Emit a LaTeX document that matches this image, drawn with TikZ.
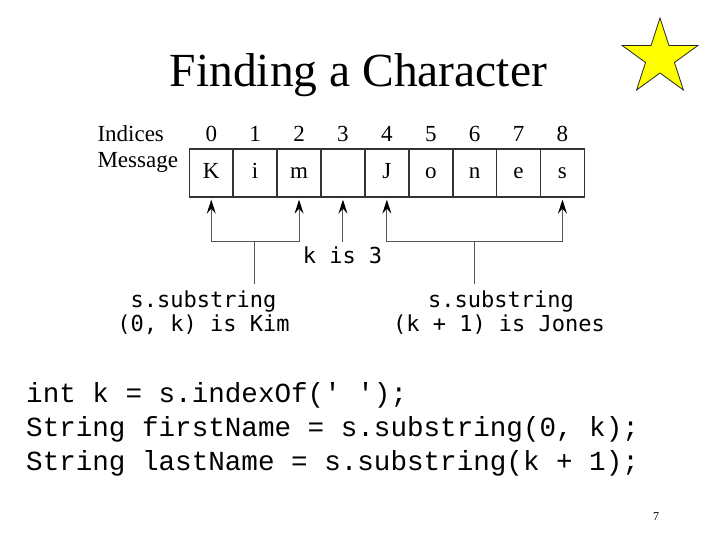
\documentclass[tikz,border=0pt]{standalone}
\usepackage{fontspec}
\setmainfont{Liberation Serif}
\newfontfamily\labelmono{DejaVu Sans Mono}
\newfontfamily\codemono{Liberation Mono}
\usetikzlibrary{arrows.meta}
\definecolor{cellline}{HTML}{333333}
\definecolor{linkgray}{HTML}{555555}
\definecolor{staryellow}{HTML}{FFFF00}
\begin{document}
\begin{tikzpicture}[x=1pt,y=-1pt,
  title/.style={font=\fontsize{47.5}{50}\selectfont, inner sep=0pt, anchor=base},
  cellbox/.style={draw=cellline, line width=1.6pt, minimum width=43.9pt, minimum height=47.7pt,
    inner sep=0pt, font=\fontsize{23}{26}\selectfont},
  idx/.style={font=\fontsize{23}{26}\selectfont, inner sep=0pt, anchor=base},
  rowname/.style={font=\fontsize{23}{26}\selectfont, inner sep=0pt, anchor=base west},
  monolabel/.style={font=\labelmono\fontsize{22}{24}\selectfont, inner sep=0pt, anchor=base},
  codeline/.style={font=\codemono\fontsize{27.6}{30}\selectfont, inner sep=0pt, anchor=base west},
  link/.style={draw=linkgray, line width=1pt},
  pointer/.style={link, shorten >=2pt,
    -{Stealth[length=14pt,width=9pt,inset=5pt,color=black]}}]
\useasboundingbox (0,0) rectangle (720,540);
\fill[white] (0,0) rectangle (720,540);

% heading
\node[title] (head) at (358.4,86.7) {Finding a Character};

% star ornament
\begin{scope}[shift={(660,57.8)}]
  \draw[fill=staryellow, draw=black!85, line width=0.8pt, line join=miter]
    (-90:39.8) -- (-54:15.2) -- (-18:39.8) -- (18:15.2) -- (54:39.8) -- (90:15.2)
    -- (126:39.8) -- (162:15.2) -- (198:39.8) -- (234:15.2) -- cycle;
\end{scope}

% row captions
\node[rowname] (indices) at (97.3,141.7) {Indices};
\node[rowname] (message) at (97.3,167.5) {Message};

% character cells with their indices
\foreach \ch [count=\i from 0] in {K,i,m,{},J,o,n,e,s} {
  \node[cellbox] (c\i) at ({189.3+43.9*(\i+0.5)},173) {\vphantom{Kg}\ch};
  \node[idx] (i\i) at ({189.3+43.9*(\i+0.5)},141.7) {\i};
}

% pointer brackets
\coordinate (lA) at (c0.south |- 0,241.7);
\coordinate (lB) at (c2.south |- 0,241.7);
\coordinate (rA) at (c4.south |- 0,241.7);
\coordinate (rB) at (c8.south |- 0,241.7);
\coordinate (kTop) at (c3.south |- 0,241.7);
\coordinate (lMid) at (254.7,241.7);
\coordinate (rMid) at (474,241.7);
\coordinate (lEnd) at (254.7,284);
\coordinate (rEnd) at (474,284);

\draw[link] (lA) -- (lB);
\draw[link] (rA) -- (rB);
\draw[pointer] (lA) -- (c0.south);
\draw[pointer] (lB) -- (c2.south);
\draw[pointer] (kTop) -- (c3.south);
\draw[pointer] (rA) -- (c4.south);
\draw[pointer] (rB) -- (c8.south);
\draw[link] (lMid) -- (lEnd);
\draw[link] (rMid) -- (rEnd);

% annotations
\node[monolabel] (kis) at (342.5,263.3) {k is 3};
\node[monolabel] (left1) at (203.5,307.3) {s.substring};
\node[monolabel] (left2) at (203.5,331.7) {(0, k) is Kim};
\node[monolabel] (right1) at (501,307.3) {s.substring};
\node[monolabel] (right2) at (499,331.7) {(k + 1) is Jones};

% code listing
\node[codeline] (code1) at (26,402) {int k = s.indexOf(' ');};
\node[codeline] (code2) at (26,436) {String firstName = s.substring(0, k);};
\node[codeline] (code3) at (26,470) {String lastName = s.substring(k + 1);};

% page number
\node[font=\fontsize{12}{14}\selectfont, inner sep=0pt, anchor=base] (page) at (656,520) {7};
\end{tikzpicture}
\end{document}
